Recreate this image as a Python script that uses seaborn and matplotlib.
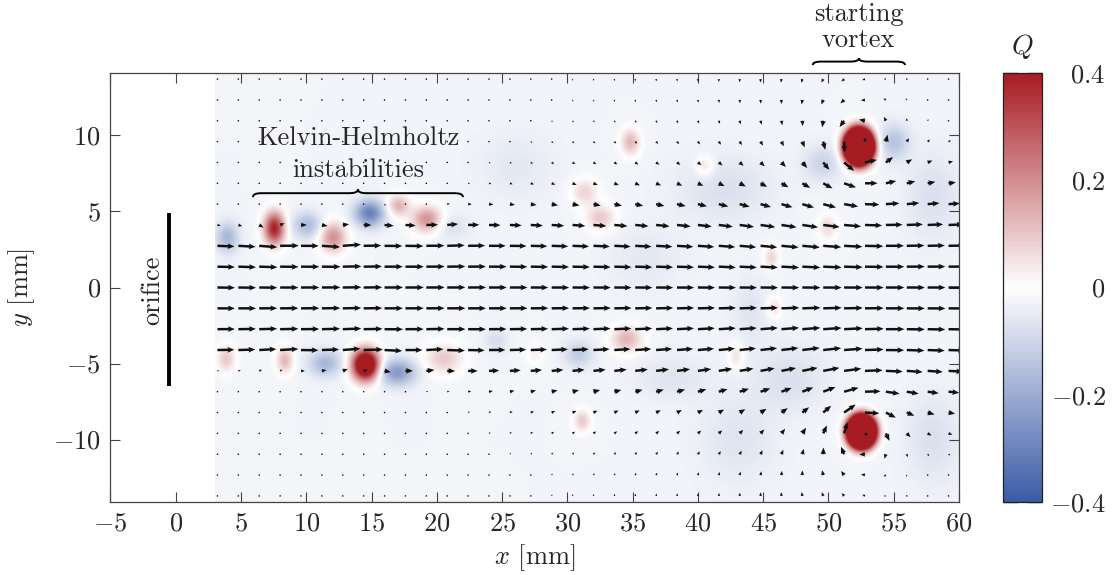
import numpy as np
import matplotlib
matplotlib.use("Agg")
import matplotlib.pyplot as plt
from matplotlib.path import Path
from matplotlib.patches import PathPatch
import seaborn as sns

# ---------------------------------------------------------------------------
# Coherent structures of the Q-criterion field
# centre x, centre y [mm], peak Q, spread in x and y [mm]
# ---------------------------------------------------------------------------
q_x = [3.9, 7.5, 10.0, 12.0, 14.8, 17.0, 19.2, 21.0,
       3.8, 8.3, 11.4, 14.5, 16.9, 20.5, 24.5, 27.5, 30.8, 34.5, 31.1,
       42.9, 45.8, 45.6, 49.9, 31.3, 32.5, 34.8, 40.5,
       52.3, 52.5, 55.0, 49.5,
       42.0, 47.0, 58.0, 58.0, 43.0, 38.0, 44.0, 26.0, 36.0]
q_y = [3.3, 3.9, 4.1, 3.3, 4.9, 5.4, 4.5, 4.0,
       -4.7, -4.8, -5.0, -5.1, -5.6, -4.7, -3.5, -4.4, -4.4, -3.4, -8.8,
       -4.5, -1.3, 2.0, 4.0, 6.3, 4.6, 9.6, 8.0,
       9.3, -9.5, 9.6, 8.2,
       6.5, -6.0, 6.0, -10.0, -10.0, -6.0, -1.5, 8.0, 2.0]
q_peak = [-0.15, 0.42, -0.14, 0.22, -0.28, 0.16, 0.22, -0.05,
          0.12, 0.15, -0.15, 0.70, -0.22, 0.12, -0.06, 0.05, -0.10, 0.16, 0.12,
          0.08, 0.08, 0.10, 0.09, 0.10, 0.12, 0.15, 0.08,
          3.0, 3.0, -0.12, -0.08,
          -0.05, -0.05, -0.05, -0.05, -0.04, -0.04, -0.04, -0.03, -0.03]
q_sx = [0.6, 0.55, 0.8, 0.7, 0.8, 0.6, 0.8, 1.0,
        0.5, 0.45, 0.9, 0.7, 1.0, 1.0, 0.6, 0.5, 0.8, 0.8, 0.45,
        0.4, 0.4, 0.4, 0.5, 0.7, 0.8, 0.5, 0.5,
        0.62, 0.6, 0.8, 1.0,
        2.5, 2.0, 1.5, 1.5, 2.0, 2.0, 1.0, 2.0, 2.0]
q_sy = [0.7, 0.75, 0.6, 0.7, 0.6, 0.5, 0.6, 0.6,
        0.6, 0.6, 0.6, 0.7, 0.6, 0.7, 0.5, 0.5, 0.6, 0.6, 0.5,
        0.6, 0.5, 0.5, 0.6, 0.6, 0.6, 0.6, 0.5,
        0.66, 0.6, 0.8, 0.8,
        1.5, 1.5, 2.0, 2.0, 2.0, 1.0, 1.5, 1.5, 1.5]
q_background = -0.025

# ---------------------------------------------------------------------------
# Vortices shaping the velocity field: position [mm], circulation, core radius
# ---------------------------------------------------------------------------
vortex_x = [52.3, 52.5, 7.5, 12.0, 17.0, 19.2, 8.3, 14.5, 20.5]
vortex_y = [9.3, -9.5, 3.9, 3.3, 5.4, 4.5, -4.8, -5.1, -4.7]
vortex_gamma = [6.0, -6.0, 0.8, 0.6, 0.5, 0.6, -0.5, -1.0, -0.5]
vortex_core = [1.2, 1.2, 0.6, 0.6, 0.6, 0.6, 0.6, 0.7, 0.6]

# ---------------------------------------------------------------------------
# Jet development along x
# ---------------------------------------------------------------------------
jet_axis = -0.6
jet_x = [3.0, 15.0, 30.0, 45.0, 60.0]
jet_centre_u = [1.0, 1.0, 1.0, 0.92, 0.9]
jet_halfwidth = [4.35, 4.6, 5.1, 5.7, 6.0]
jet_shear = [0.45, 0.7, 1.4, 1.8, 1.9]
coflow_u = [0.0, 0.02, 0.25, 0.3, 0.3]
entrain_v = [0.0, 0.02, 0.08, 0.10, 0.06]

x_ticks = [-5, 0, 5, 10, 15, 20, 25, 30, 35, 40, 45, 50, 55, 60]
y_ticks = [-10, -5, 0, 5, 10]
q_ticks = [-0.4, -0.2, 0.0, 0.2, 0.4]
q_tick_labels = ["$-0.4$", "$-0.2$", "$0$", "$0.2$", "$0.4$"]

# ---------------------------------------------------------------------------
sns.set_style("ticks")
plt.rcParams["font.family"] = ["cmr10"]
plt.rcParams["mathtext.fontset"] = "cm"
plt.rcParams["axes.formatter.use_mathtext"] = True
FS = 19
EDGE = "#444444"

cmap = sns.blend_palette(["#3a5ba6", "#ffffff", "#a61c22"], as_cmap=True)

fig = plt.figure(figsize=(11.12, 5.75), dpi=100)
ax = fig.add_axes([110.4 / 1112, (575 - 502) / 575, 848.6 / 1112, 429.0 / 575])

# Q field on a fine grid covering the measurement window
gx = np.linspace(3.0, 60.0, 571)
gy = np.linspace(-14.1, 14.1, 283)
GX, GY = np.meshgrid(gx, gy)
Q = np.full_like(GX, q_background)
for x0, y0, qp, sx, sy in zip(q_x, q_y, q_peak, q_sx, q_sy):
    Q += qp * np.exp(-0.5 * (((GX - x0) / sx) ** 2 + ((GY - y0) / sy) ** 2))

im = ax.imshow(Q, extent=(3.0, 60.0, -14.1, 14.1), origin="lower",
               cmap=cmap, vmin=-0.4, vmax=0.4, aspect="auto",
               interpolation="bilinear", zorder=0)

# Velocity vectors on the PIV grid
vx = 3.2 + 1.6 * np.arange(36)
vy = 1.37 * np.arange(-10, 11)
VX, VY = np.meshgrid(vx, vy)
rel = np.abs(VY - jet_axis)
b = np.interp(VX, jet_x, jet_halfwidth)
d = np.interp(VX, jet_x, jet_shear)
uc = np.interp(VX, jet_x, jet_centre_u)
profile = 0.5 * (1.0 - np.tanh((rel - b) / d))
cf = np.interp(VX, jet_x, coflow_u) * np.exp(-(rel / 10.0) ** 4)
U = uc * profile + cf * (1.0 - profile)
V = -np.interp(VX, jet_x, entrain_v) * np.tanh((VY - jet_axis) / 3.0) * (1.0 - 0.5 * profile)
for x0, y0, g, rc in zip(vortex_x, vortex_y, vortex_gamma, vortex_core):
    dx = VX - x0
    dy = VY - y0
    r2 = dx ** 2 + dy ** 2 + 1e-9
    f = g / (2 * np.pi * r2) * (1.0 - np.exp(-r2 / rc ** 2))
    U += -f * dy
    V += f * dx

ax.quiver(VX, VY, U, V, angles="xy", scale_units="xy", scale=0.78,
          width=0.0029, headwidth=2.3, headlength=2.8, headaxislength=2.5,
          minlength=0.7, color="#111111", zorder=2)

# orifice plate
ax.plot([-0.5, -0.5], [4.9, -6.5], color="black", lw=2.8,
        solid_capstyle="butt", zorder=3)
ax.text(-1.75, -0.2, "orifice", rotation=90, ha="center", va="center",
        fontsize=FS)


def brace(axis, x0, x1, y, h, r):
    xm = 0.5 * (x0 + x1)
    verts = [(x0, y - h), (x0, y - 0.3 * h), (x0 + 0.3 * r, y), (x0 + r, y),
             (xm - r, y),
             (xm - 0.3 * r, y), (xm, y + 0.3 * h), (xm, y + h),
             (xm, y + 0.3 * h), (xm + 0.3 * r, y), (xm + r, y),
             (x1 - r, y),
             (x1 - 0.3 * r, y), (x1, y - 0.3 * h), (x1, y - h)]
    codes = [Path.MOVETO, Path.CURVE4, Path.CURVE4, Path.CURVE4,
             Path.LINETO,
             Path.CURVE4, Path.CURVE4, Path.CURVE4,
             Path.CURVE4, Path.CURVE4, Path.CURVE4,
             Path.LINETO,
             Path.CURVE4, Path.CURVE4, Path.CURVE4]
    axis.add_patch(PathPatch(Path(verts, codes), fill=False, lw=1.4,
                             edgecolor="black", clip_on=False, zorder=4))


brace(ax, 5.92, 22.0, 6.2, 0.26, 0.7)
ax.text(13.96, 9.34, "Kelvin-Helmholtz", ha="center", va="baseline",
        fontsize=FS, zorder=5)
ax.text(13.96, 7.25, "instabilities", ha="center", va="baseline",
        fontsize=FS, zorder=5)

brace(ax, 48.8, 55.86, 14.85, 0.23, 0.7)
ax.text(52.3, 17.5, "starting", ha="center", va="baseline", fontsize=FS,
        clip_on=False)
ax.text(52.3, 15.79, "vortex", ha="center", va="baseline", fontsize=FS,
        clip_on=False)

ax.set_xlim(-5, 60)
ax.set_ylim(-14.1, 14.1)
ax.set_xticks(x_ticks)
ax.set_xticklabels([f"${t}$" for t in x_ticks])
ax.set_yticks(y_ticks)
ax.set_yticklabels([f"${t}$" for t in y_ticks])
ax.tick_params(direction="in", top=True, right=True, length=7, width=0.8,
               color=EDGE, labelsize=FS, pad=7)
for s in ax.spines.values():
    s.set_color(EDGE)
    s.set_linewidth(0.9)
ax.set_xlabel("$x$ [mm]", fontsize=FS)
ax.set_ylabel("$y$ [mm]", fontsize=FS)
ax.xaxis.set_label_coords(0.5, (502 - 558) / 429.0)
ax.xaxis.label.set_va("center")
ax.yaxis.set_label_coords((22 - 110.4) / 848.6, 0.5)
ax.yaxis.label.set_va("center")

# colour bar
cax = fig.add_axes([1003.0 / 1112, (575 - 502) / 575, 38.5 / 1112, 429.0 / 575])
cb = fig.colorbar(im, cax=cax, ticks=q_ticks)
cb.outline.set_edgecolor("#222222")
cb.outline.set_linewidth(0.9)
cax.yaxis.set_ticks_position("both")
cax.tick_params(direction="in", length=11, width=1.0, color=EDGE,
                labelsize=FS, pad=46, labelleft=False, labelright=True)
cax.set_yticklabels(q_tick_labels)
for t in cax.get_yticklabels():
    t.set_ha("right")
cax.set_title("$Q$", fontsize=FS + 1, pad=14)

fig.savefig("out.png", dpi=100, facecolor="white")
